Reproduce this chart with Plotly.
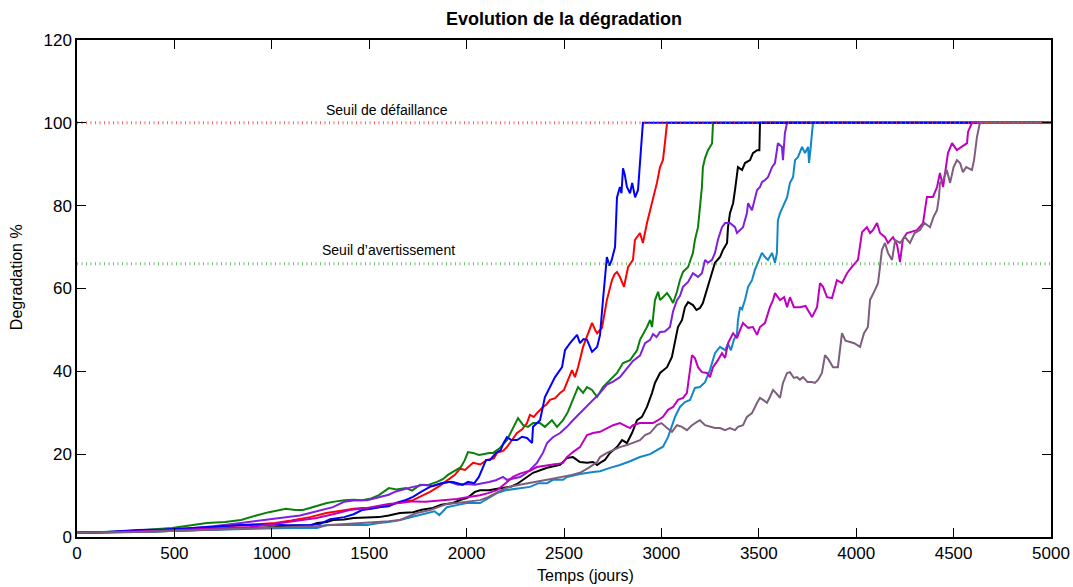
import plotly.graph_objects as go

# ---- Degradation paths (days, % degradation) ----
blue_t = [0, 150, 313, 450, 600, 842, 1000, 1100, 1196, 1250, 1300, 1371, 1420, 1463, 1510, 1550, 1600, 1637, 1680, 1725,
          1770, 1812, 1860, 1904, 1930, 1956, 1980, 2007, 2040, 2063, 2085, 2100, 2120, 2151, 2175, 2190, 2207, 2230, 2259,
          2285, 2310, 2336, 2341, 2377, 2402, 2428, 2454, 2490, 2505, 2531, 2550, 2567, 2582, 2600, 2618, 2644, 2670, 2685,
          2700, 2710, 2720, 2733, 2745, 2762, 2772, 2787, 2795, 2803, 2812, 2823, 2839, 2850, 2865, 2880, 2890, 2905, 5000]
blue_y = [1.0, 1.2, 1.7, 1.8, 2.2, 2.9, 3.0, 2.8, 2.9, 3.2, 4.3, 4.8, 5.5, 6.5, 6.8, 7.2, 7.4, 8.2, 8.8, 9.7,
          11.0, 12.1, 12.8, 13.3, 13.3, 13.0, 12.6, 13.3, 13.0, 14.5, 16.9, 18.6, 18.6, 20.3, 21.0, 22.7, 24.1, 23.4, 23.4,
          24.2, 23.9, 22.7, 26.6, 28.2, 33.8, 36.2, 38.6, 41.0, 45.1, 46.8, 48.0, 48.8, 46.8, 47.8, 47.6, 44.7, 45.9, 48.8,
          57.2, 62.0, 67.6, 65.5, 66.9, 70.0, 82.0, 84.5, 83.0, 89.0, 87.5, 84.5, 83.0, 85.5, 82.0, 83.8, 91.0, 100, 100]

red_t = [0, 300, 500, 667, 850, 1017, 1100, 1196, 1280, 1371, 1420, 1463, 1510, 1550, 1600, 1637, 1680, 1725, 1770, 1812,
         1860, 1904, 1940, 1966, 1992, 2033, 2070, 2105, 2140, 2156, 2187, 2207, 2235, 2259, 2285, 2310, 2325, 2345, 2361,
         2392, 2410, 2428, 2455, 2480, 2500, 2515, 2541, 2556, 2572, 2598, 2620, 2644, 2660, 2670, 2695, 2720, 2746, 2760,
         2772, 2787, 2808, 2829, 2854, 2864, 2890, 2905, 2926, 2952, 2977, 2993, 3008, 3018, 3029, 5000]
red_y = [1.0, 1.3, 1.7, 2.2, 2.8, 3.4, 4.0, 4.8, 5.8, 6.5, 6.8, 7.0, 7.0, 7.2, 7.8, 8.2, 8.6, 8.9, 10.0, 10.9,
         12.3, 13.8, 15.0, 16.5, 16.2, 17.9, 17.5, 18.6, 19.0, 20.3, 20.8, 21.7, 23.5, 25.1, 26.0, 27.5, 29.5, 29.0, 29.9,
         31.4, 32.0, 33.1, 33.5, 34.8, 35.5, 37.2, 40.3, 38.6, 41.0, 45.9, 48.5, 51.7, 50.0, 49.2, 50.5, 57.2, 62.0, 63.5,
         64.0, 62.8, 60.4, 65.2, 66.9, 71.7, 73.4, 71.0, 75.8, 80.6, 85.5, 89.3, 91.0, 95.1, 100, 100]

green_t = [0, 250, 488, 580, 667, 760, 842, 920, 985, 1073, 1120, 1160, 1220, 1283, 1330, 1371, 1420, 1463, 1510, 1550,
           1601, 1640, 1689, 1720, 1761, 1800, 1848, 1880, 1904, 1940, 1971, 1990, 2007, 2033, 2063, 2085, 2115, 2136, 2171,
           2207, 2233, 2264, 2290, 2315, 2341, 2377, 2402, 2438, 2464, 2495, 2520, 2546, 2572, 2598, 2618, 2644, 2670, 2700,
           2736, 2772, 2803, 2839, 2875, 2890, 2926, 2942, 2952, 2967, 2983, 2993, 3008, 3029, 3044, 3060, 3080, 3095, 3111,
           3137, 3162, 3172, 3188, 3198, 3208, 3213, 3224, 3239, 3260, 3265, 5000]
green_y = [1.0, 1.4, 2.2, 2.9, 3.4, 3.6, 4.1, 5.2, 6.0, 6.8, 6.5, 6.5, 7.4, 8.2, 8.6, 8.9, 9.0, 8.9, 9.3, 10.1,
           11.8, 11.5, 11.8, 11.2, 12.6, 12.5, 13.3, 14.0, 15.0, 16.0, 16.9, 18.5, 20.5, 20.3, 19.8, 20.0, 20.3, 20.3, 21.5,
           23.4, 25.8, 28.7, 27.0, 26.6, 27.5, 27.5, 26.6, 28.2, 26.6, 28.2, 30.2, 33.1, 36.2, 34.8, 36.2, 35.5, 33.8, 36.2,
           37.9, 39.6, 42.0, 42.7, 45.1, 47.6, 50.7, 52.4, 50.7, 57.2, 59.2, 57.2, 57.9, 58.9, 57.9, 56.5, 59.2, 62.0, 64.0,
           65.2, 68.6, 71.7, 74.8, 78.9, 84.5, 89.3, 91.5, 93.4, 95.0, 100, 100]

black_t = [0, 400, 700, 1017, 1100, 1200, 1232, 1283, 1314, 1371, 1420, 1489, 1550, 1600, 1658, 1725, 1770, 1827, 1870,
           1930, 1970, 2002, 2043, 2069, 2115, 2150, 2187, 2230, 2259, 2290, 2341, 2413, 2450, 2480, 2515, 2546, 2582, 2618,
           2649, 2670, 2685, 2710, 2736, 2772, 2798, 2823, 2849, 2875, 2900, 2926, 2952, 2967, 2993, 3029, 3054, 3070, 3085,
           3106, 3121, 3137, 3162, 3180, 3198, 3213, 3239, 3260, 3275, 3301, 3316, 3337, 3342, 3352, 3368, 3378, 3388, 3393,
           3414, 3429, 3455, 3470, 3491, 3503, 3506, 5000]
black_y = [1.0, 1.3, 1.8, 2.4, 2.8, 2.8, 3.4, 3.6, 4.1, 4.2, 4.6, 4.8, 4.8, 5.2, 5.8, 6.0, 6.6, 7.0, 7.8,
           8.2, 9.0, 9.4, 10.9, 11.3, 11.3, 11.6, 11.8, 12.2, 12.8, 13.8, 15.5, 16.7, 17.0, 17.4, 19.1, 19.3, 18.1, 17.9,
           18.1, 17.4, 17.9, 18.6, 20.3, 21.7, 23.4, 22.7, 25.1, 28.2, 29.0, 31.4, 34.8, 37.2, 39.6, 41.0, 43.5, 46.8, 50.7,
           52.4, 55.5, 56.7, 56.0, 54.8, 55.3, 56.5, 60.4, 63.7, 66.2, 67.6, 69.3, 71.0, 74.8, 78.2, 80.6, 83.8, 86.9, 89.3,
           88.6, 90.3, 91.0, 92.7, 93.4, 93.4, 100, 100]

violet_t = [0, 300, 500, 700, 842, 950, 1050, 1145, 1196, 1260, 1314, 1371, 1420, 1489, 1550, 1600, 1637, 1680, 1725,
            1780, 1827, 1869, 1910, 1956, 2000, 2043, 2080, 2115, 2150, 2187, 2207, 2240, 2274, 2300, 2325, 2361, 2392,
            2413, 2443, 2480, 2515, 2546, 2582, 2618, 2649, 2685, 2720, 2752, 2787, 2823, 2854, 2890, 2916, 2942, 2957,
            2975, 2993, 3018, 3044, 3060, 3080, 3095, 3111, 3137, 3162, 3188, 3208, 3224, 3239, 3260, 3275, 3290, 3301,
            3311, 3327, 3352, 3378, 3388, 3404, 3419, 3439, 3445, 3465, 3480, 3491, 3506, 3516, 3532, 3547, 3568, 3583,
            3593, 3598, 3619, 3624, 3634, 3645, 5000]
violet_y = [1.0, 1.3, 1.8, 2.6, 3.4, 4.0, 4.6, 5.2, 5.8, 6.6, 7.2, 8.5, 8.8, 8.9, 9.7, 10.2, 11.0, 11.6, 12.1,
            12.6, 12.3, 13.0, 13.3, 12.6, 12.8, 12.6, 12.9, 13.3, 13.7, 14.5, 13.8, 14.2, 14.5, 15.2, 16.2, 17.9, 20.3,
            22.7, 24.1, 25.1, 26.6, 28.2, 29.9, 31.4, 33.1, 34.8, 36.8, 37.5, 38.6, 40.6, 42.5, 43.8, 46.8, 47.6, 49.0,
            48.3, 49.5, 49.6, 50.7, 54.5, 57.2, 58.2, 60.4, 61.6, 63.7, 62.8, 63.7, 66.9, 66.2, 66.9, 68.6, 71.7, 73.4,
            74.8, 75.8, 75.8, 74.8, 73.4, 74.1, 74.8, 78.2, 80.6, 78.9, 81.4, 83.8, 84.5, 85.7, 86.2, 86.9, 89.3, 90.3,
            93.4, 95.1, 94.2, 91.0, 97.5, 100, 100]

cyan_t = [0, 300, 600, 900, 1100, 1232, 1283, 1380, 1489, 1550, 1600, 1658, 1700, 1745, 1812, 1835, 1860, 1899, 1950,
          2002, 2069, 2110, 2156, 2200, 2240, 2280, 2325, 2370, 2413, 2443, 2495, 2515, 2582, 2649, 2685, 2736, 2787, 2839,
          2890, 2942, 2977, 3008, 3034, 3054, 3070, 3095, 3121, 3147, 3172, 3198, 3224, 3249, 3275, 3301, 3311, 3327, 3342,
          3357, 3372, 3388, 3393, 3404, 3414, 3429, 3445, 3465, 3480, 3496, 3516, 3532, 3547, 3568, 3583, 3593, 3598, 3609,
          3624, 3645, 3660, 3676, 3686, 3701, 3722, 3737, 3753, 3758, 3765, 3773, 3778, 5000]
cyan_y = [1.0, 1.2, 1.6, 2.0, 2.2, 2.2, 2.9, 2.9, 2.9, 3.4, 3.6, 4.1, 4.6, 5.3, 6.0, 6.2, 5.3, 7.2, 7.7,
          8.2, 8.2, 9.4, 10.6, 11.3, 11.5, 11.8, 12.1, 13.0, 13.0, 13.8, 13.8, 14.5, 15.2, 15.7, 15.9, 16.7, 17.4, 18.3,
          19.3, 20.0, 21.0, 21.8, 24.1, 26.6, 29.0, 31.4, 32.6, 33.1, 36.0, 36.2, 37.4, 40.3, 44.4, 45.9, 45.6, 45.1, 46.6,
          45.1, 47.6, 49.0, 52.4, 55.5, 55.0, 57.2, 60.4, 62.0, 64.5, 66.2, 68.6, 67.6, 66.9, 68.6, 66.2, 68.6, 76.5, 78.2,
          79.7, 82.0, 85.5, 86.9, 91.0, 91.7, 94.2, 92.7, 94.2, 90.3, 93.4, 97.5, 100, 100]

magenta_t = [0, 300, 600, 888, 1017, 1145, 1230, 1314, 1400, 1489, 1555, 1600, 1658, 1725, 1790, 1850, 1899, 1950, 2002,
             2069, 2110, 2156, 2200, 2238, 2274, 2325, 2361, 2413, 2460, 2495, 2515, 2546, 2582, 2618, 2649, 2685, 2720,
             2752, 2787, 2813, 2839, 2854, 2890, 2926, 2957, 2983, 3008, 3034, 3060, 3085, 3111, 3131, 3147, 3157, 3172,
             3188, 3208, 3234, 3249, 3265, 3290, 3311, 3327, 3342, 3368, 3388, 3404, 3419, 3445, 3470, 3491, 3506, 3532,
             3557, 3573, 3583, 3609, 3630, 3645, 3660, 3680, 3711, 3740, 3760, 3773, 3799, 3814, 3830, 3850, 3876, 3901,
             3927, 3953, 3978, 4009, 4030, 4055, 4071, 4086, 4107, 4122, 4148, 4163, 4189, 4210, 4225, 4240, 4261, 4290,
             4312, 4343, 4363, 4394, 4415, 4430, 4446, 4471, 4492, 4517, 4543, 4569, 4574, 4594, 5000]
magenta_y = [1.0, 1.3, 1.8, 2.4, 3.2, 4.0, 4.6, 5.5, 6.5, 7.0, 7.6, 8.0, 8.2, 8.6, 8.5, 8.7, 9.0, 9.2, 9.6,
             10.1, 10.6, 11.3, 13.0, 14.5, 15.3, 16.0, 16.9, 17.2, 17.6, 17.9, 19.3, 20.5, 21.7, 24.6, 25.1, 25.4, 26.3,
             27.0, 27.5, 27.0, 26.3, 27.0, 27.5, 27.5, 27.5, 28.2, 29.0, 30.7, 31.4, 33.1, 33.6, 34.8, 41.0, 43.9, 43.2,
             41.0, 39.8, 39.6, 38.6, 41.0, 42.7, 44.4, 43.2, 46.8, 49.2, 48.0, 50.0, 51.7, 50.5, 50.7, 48.8, 50.7, 51.7,
             55.5, 57.2, 58.9, 57.2, 57.9, 55.5, 57.9, 55.5, 55.5, 55.8, 54.2, 53.1, 55.5, 61.3, 60.4, 57.9, 57.7, 62.0,
             61.3, 63.7, 65.2, 66.9, 73.6, 74.8, 73.4, 74.1, 75.8, 73.4, 72.4, 71.0, 72.4, 70.5, 66.4, 72.0, 73.4, 73.8,
             74.1, 75.8, 82.1, 82.1, 84.5, 87.9, 84.5, 92.7, 95.1, 93.4, 94.2, 95.1, 97.8, 100, 100]

mauve_t = [0, 300, 600, 900, 1100, 1232, 1300, 1400, 1489, 1555, 1600, 1658, 1725, 1745, 1812, 1850, 1899, 1950, 2002,
           2069, 2110, 2156, 2200, 2238, 2290, 2325, 2370, 2413, 2455, 2495, 2540, 2582, 2630, 2670, 2685, 2720, 2752,
           2787, 2823, 2854, 2890, 2916, 2942, 2977, 3000, 3029, 3054, 3080, 3106, 3131, 3157, 3183, 3198, 3224, 3249,
           3275, 3301, 3327, 3352, 3378, 3393, 3419, 3439, 3465, 3491, 3506, 3522, 3542, 3557, 3573, 3588, 3609, 3624,
           3645, 3660, 3680, 3696, 3711, 3727, 3750, 3773, 3788, 3805, 3824, 3840, 3860, 3881, 3906, 3927, 3945, 3968,
           3990, 4020, 4040, 4060, 4071, 4096, 4112, 4122, 4132, 4148, 4163, 4184, 4200, 4225, 4250, 4276, 4300, 4327,
           4350, 4379, 4397, 4415, 4425, 4430, 4446, 4465, 4482, 4500, 4517, 4533, 4548, 4565, 4594, 4605, 4620, 4635, 5000]
mauve_y = [1.0, 1.2, 1.6, 2.0, 2.3, 2.6, 2.9, 3.2, 3.4, 3.6, 3.8, 4.1, 5.3, 5.8, 6.5, 7.2, 8.0, 8.2, 8.5,
           8.9, 9.6, 10.8, 11.8, 12.3, 12.8, 13.0, 13.4, 13.8, 14.2, 14.5, 15.0, 15.5, 16.8, 18.1, 19.3, 20.3, 21.0,
           21.7, 22.2, 22.7, 23.4, 24.6, 25.1, 27.0, 27.5, 26.3, 25.4, 27.0, 26.6, 25.8, 27.0, 27.8, 28.2, 27.0, 26.6,
           26.3, 26.3, 25.8, 26.3, 25.8, 26.6, 27.0, 29.0, 29.9, 32.4, 33.6, 33.1, 32.4, 33.8, 35.5, 34.8, 33.6, 37.2,
           39.6, 39.8, 38.4, 38.6, 38.0, 38.6, 37.4, 37.4, 37.2, 38.0, 39.6, 43.9, 42.7, 41.0, 41.0, 49.2, 47.4, 47.1,
           46.8, 45.9, 49.2, 50.7, 57.2, 59.6, 61.3, 65.2, 69.3, 71.0, 68.6, 66.9, 71.7, 71.0, 72.4, 71.0, 73.4, 74.1,
           75.8, 74.8, 77.3, 78.9, 82.1, 85.5, 86.2, 88.6, 85.5, 89.3, 91.0, 90.3, 88.1, 89.3, 88.6, 91.0, 96.6, 100, 100]

# ---- Thresholds ----
seuil_defaillance = 100
seuil_avertissement = 66
x_range = [0, 5000]
x_ticks = [0, 500, 1000, 1500, 2000, 2500, 3000, 3500, 4000, 4500, 5000]
y_ticks = [0, 20, 40, 60, 80, 100, 120]

# drawing order: blue above the earlier failures, magenta and mauve last
paths = [
    (red_t, red_y, "#FF0000"),
    (green_t, green_y, "#0A800A"),
    (black_t, black_y, "#000000"),
    (violet_t, violet_y, "#7F1FE0"),
    (cyan_t, cyan_y, "#1287C8"),
    (blue_t, blue_y, "#0000FF"),
    (magenta_t, magenta_y, "#BF00BF"),
    (mauve_t, mauve_y, "#7E5E7E"),
]

FONT = "Liberation Sans, Arial, Helvetica, sans-serif"

fig = go.Figure()
for t, y, c in paths:
    fig.add_trace(go.Scatter(x=t, y=y, mode="lines", line=dict(color=c, width=2), showlegend=False,
                             hoverinfo="skip"))

fig.add_trace(go.Scatter(x=x_range, y=[seuil_defaillance] * 2, mode="lines",
                         line=dict(color="rgba(255,60,60,0.8)", width=3, dash="1px,3.5px"),
                         showlegend=False, hoverinfo="skip"))
fig.add_trace(go.Scatter(x=x_range, y=[seuil_avertissement] * 2, mode="lines",
                         line=dict(color="rgba(50,165,50,0.7)", width=3, dash="1px,3.5px"),
                         showlegend=False, hoverinfo="skip"))

fig.add_annotation(x=1590, y=seuil_defaillance + 3.2, text="Seuil de défaillance", showarrow=False,
                   font=dict(family=FONT, size=14, color="#000"), xanchor="center", yanchor="middle")
fig.add_annotation(x=1600, y=seuil_avertissement + 3.3, text="Seuil d’avertissement", showarrow=False,
                   font=dict(family=FONT, size=14, color="#000"), xanchor="center", yanchor="middle")

# axis titles and chart title
fig.add_annotation(xref="paper", yref="paper", x=0.522, y=-0.078, text="Temps (jours)", showarrow=False,
                   font=dict(family=FONT, size=16, color="#000"), xanchor="center", yanchor="middle")
fig.add_annotation(xref="paper", yref="paper", x=-0.062, y=0.522, text="Degradation %", showarrow=False,
                   textangle=-90, font=dict(family=FONT, size=16, color="#000"), xanchor="center",
                   yanchor="middle")
fig.add_annotation(xref="paper", yref="paper", x=0.5, y=1.042, text="<b>Evolution de la dégradation</b>",
                   showarrow=False, font=dict(family=FONT, size=18, color="#000"), xanchor="center",
                   yanchor="middle")

axis_common = dict(showline=True, linecolor="#000", linewidth=1.5, mirror="ticks", ticks="inside",
                   ticklen=9, tickwidth=1, tickcolor="#000", showgrid=False, zeroline=False,
                   automargin=False, tickfont=dict(family=FONT, size=17, color="#000"))

fig.update_layout(
    width=1073, height=587,
    margin=dict(l=77, r=22, t=40, b=50, pad=0, autoexpand=False),
    plot_bgcolor="white", paper_bgcolor="white",
    xaxis=dict(range=x_range, tickvals=x_ticks, **axis_common),
    yaxis=dict(range=[0, 120], tickvals=y_ticks, **axis_common),
)

fig.write_html("out.html")
